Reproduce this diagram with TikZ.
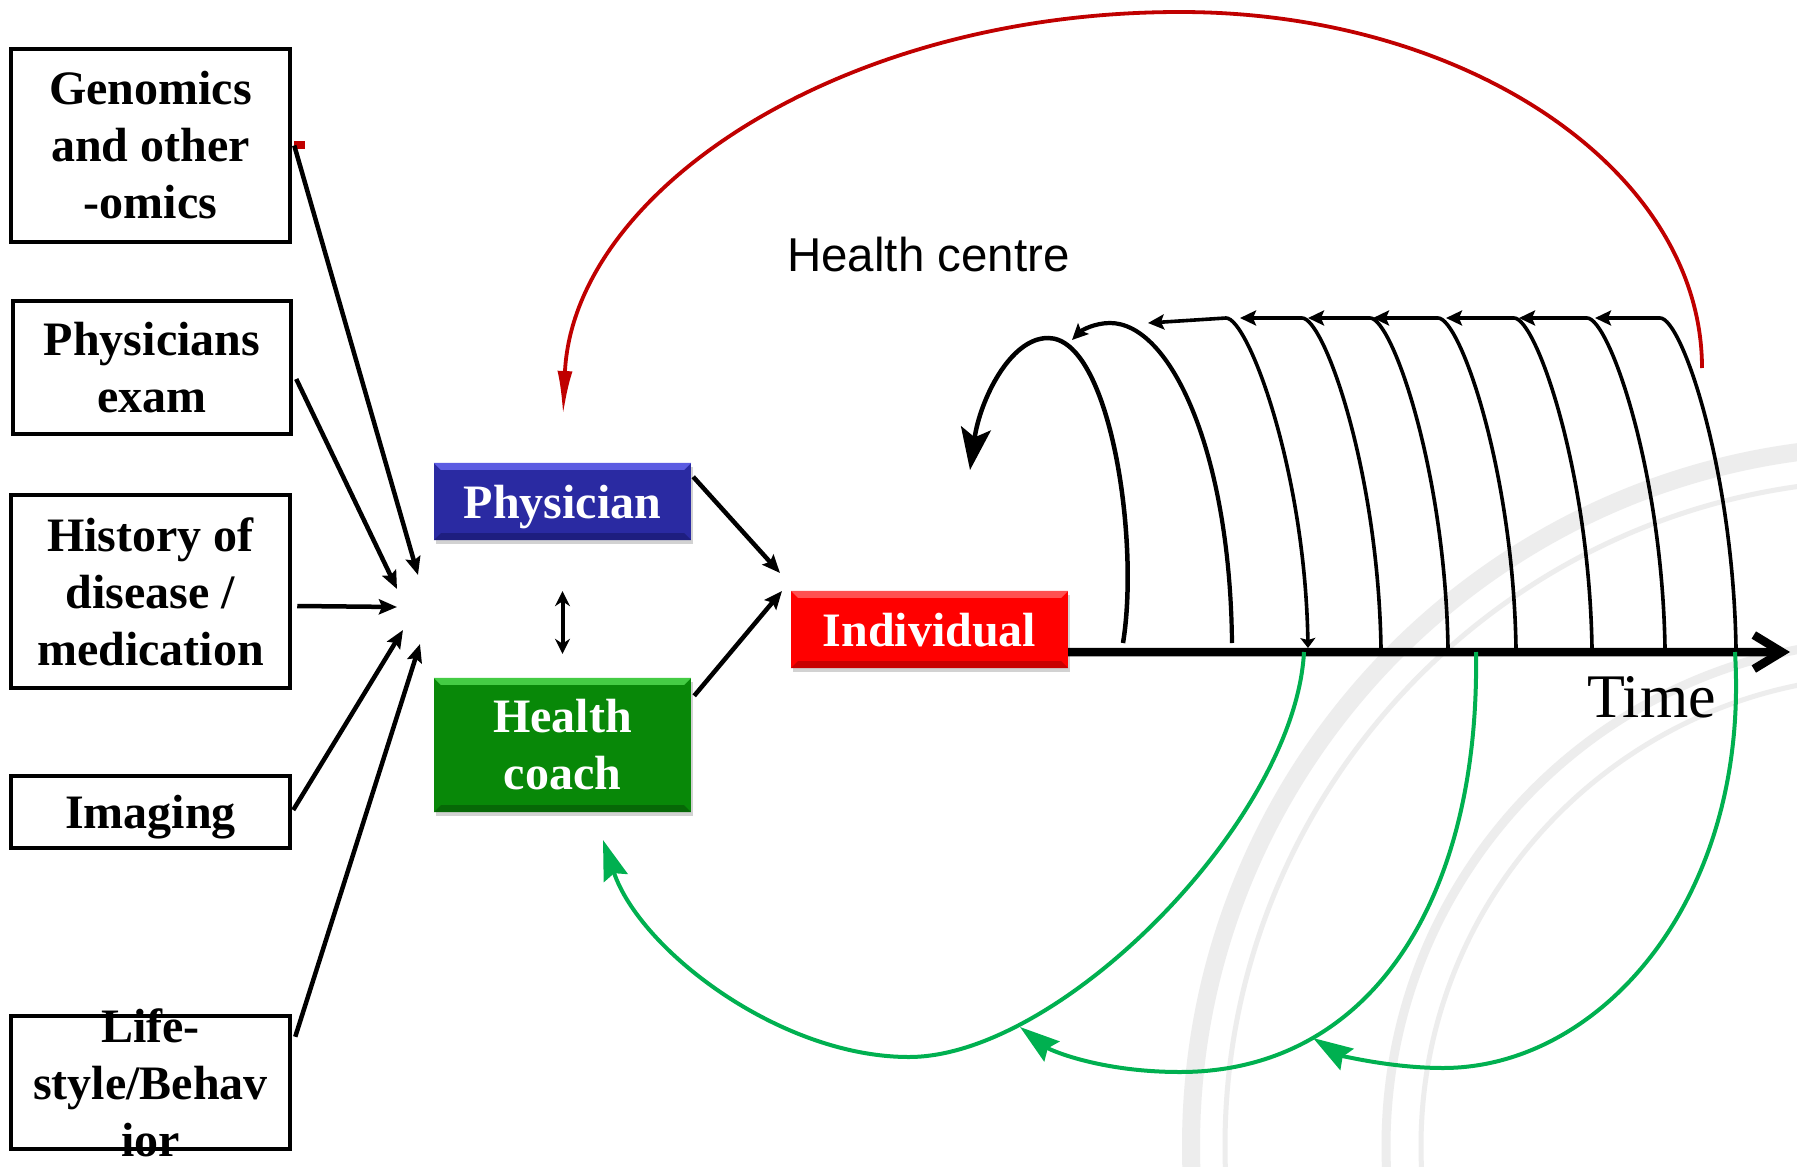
\documentclass[tikz,border=0pt]{standalone}
\usepackage{fontspec}
\setmainfont{Liberation Serif}
\newfontfamily\hcfont{Liberation Sans}
\usetikzlibrary{arrows.meta,calc,shadows}
\definecolor{physblue}{HTML}{2A2AA2}
\definecolor{physlight}{HTML}{5C5CE2}
\definecolor{physdark}{HTML}{1E1E80}
\definecolor{coachgreen}{HTML}{088808}
\definecolor{coachlight}{HTML}{44CC44}
\definecolor{coachdark}{HTML}{066806}
\definecolor{indred}{HTML}{FF0000}
\definecolor{indlight}{HTML}{FF5050}
\definecolor{inddark}{HTML}{C80000}
\definecolor{loopred}{HTML}{C00000}
\definecolor{fbgreen}{HTML}{00B050}
\definecolor{sealgray}{HTML}{EDEDED}
\begin{document}
\begin{tikzpicture}[x=1pt,y=-1pt,
  lbox/.style={draw,line width=4.5pt,fill=white,inner sep=0pt,align=center,font=\bfseries\fontsize{48}{57}\selectfont},
  lab/.style={inner sep=0pt,align=center,font=\bfseries\fontsize{48}{57}\selectfont},
  cbox/.style={inner sep=0pt,align=center,text=white,font=\bfseries\fontsize{48}{57}\selectfont,
    drop shadow={shadow xshift=2pt,shadow yshift=-4pt,opacity=0.35}},
  arr/.style={line width=4.5pt,-{Stealth[length=18pt,width=15pt,inset=3pt]}},
  coil/.style={line width=3.6pt},
  coiltip/.style={-{Stealth[length=16pt,width=15pt,inset=3pt]}},
  fb/.style={draw=fbgreen,line width=4pt,-{Stealth[length=40pt,width=25pt,inset=5pt]}},
  seal/.style={draw=sealgray}
]
\useasboundingbox (0,0) rectangle (1797,1167);
\fill[white] (0,0) rectangle (1797,1167);

% watermark seal
\begin{scope}
\clip (0,0) rectangle (1797,1167);
\draw[seal,line width=18pt] (1891,1146) circle (700);
\draw[seal,line width=5pt] (1891,1146) circle (666);
\draw[seal,line width=9pt] (1891,1146) circle (505);
\draw[seal,line width=5pt] (1891,1146) circle (470);
\end{scope}

% red feedback loop
\draw[draw=loopred,line width=3.8pt,-{Latex[length=44pt,width=15pt]}]
  (1702,368) .. controls (1702,171) and (1468,12) .. (1180,12)
  .. controls (839,12) and (573,192) .. (563,415);
\fill[loopred] (294,141) rectangle (305,149);

% coil of loops
\foreach \c/\b/\t in {1660/1736/1595, 1587/1665/1519, 1514/1592/1446, 1438/1516/1373, 1370/1448/1308, 1302/1381/1240}
  \draw[coil,coiltip] (\b,648) .. controls (\b-3,470) and (\c+22,318) .. (\c,318) -- (\t,318);
\draw[coil,{Stealth[length=16pt,width=15pt,inset=3pt]}-{Stealth[length=10pt,width=15pt,inset=2pt]}]
  (1148,323) -- (1226,318) .. controls (1248,318) and (1305,470) .. (1308,648);
\draw[line width=4.2pt,coiltip]
  (1232,643) .. controls (1230,450) and (1170,323) .. (1110,323)
  .. controls (1095,323) and (1082,330) .. (1072,340);
\draw[line width=4.5pt,-{Stealth[length=42pt,width=30pt,inset=9pt]}]
  (1123,643) .. controls (1140,540) and (1110,338) .. (1048,338)
  .. controls (1010,338) and (980,400) .. (970,470);

% labels
\node[anchor=base west,inner sep=0pt,font=\hcfont\fontsize{47.5}{47.5}\selectfont] (hcentre) at (787,271) {Health centre};
\node[anchor=base west,inner sep=0pt,font=\fontsize{62}{62}\selectfont] (time) at (1587,717) {Time};

% input boxes
\node[lbox,minimum width=279pt,minimum height=193pt] (gen) at (150.5,145.5) {Genomics\\and other\\-omics};
\node[lbox,minimum width=278pt,minimum height=133pt] (pex) at (152,367.5) {Physicians\\exam};
\node[lbox,minimum width=279pt,minimum height=193pt] (hist) at (150.5,591.5) {History of\\disease /\\medication};
\node[lbox,minimum width=279pt,minimum height=72pt,text depth=0pt] (img) at (150.5,812) {Imaging};
\node[lbox,minimum width=279pt,minimum height=133pt] (life) at (150.5,1082.5) {};
\node[lab] (lifetext) at (life.center) {Life-\\style/Behav\\ior};

% actor boxes
\node[cbox,fill=physblue,minimum width=257pt,minimum height=77pt,text depth=0pt] (phys) at (562.5,501.5) {Physician};
\node[cbox,fill=coachgreen,minimum width=257pt,minimum height=134pt] (hc) at (562.5,745) {Health\\coach};
\node[cbox,fill=indred,minimum width=277pt,minimum height=77pt,text depth=0pt] (ind) at (929.5,629.5) {Individual};
\foreach \n/\l/\d in {phys/physlight/physdark, hc/coachlight/coachdark, ind/indlight/inddark}{
  \fill[\l] (\n.north west) -- (\n.north east) -- ($(\n.north east)+(-7,7)$) -- ($(\n.north west)+(7,7)$) -- cycle;
  \fill[\d] (\n.south west) -- (\n.south east) -- ($(\n.south east)+(-7,-7)$) -- ($(\n.south west)+(7,-7)$) -- cycle;
}

% convergence coordinates
\coordinate (t1) at (418,575);
\coordinate (t2) at (397,589);
\coordinate (t3) at (397,607);
\coordinate (t4) at (403,630);
\coordinate (t5) at (420,644);
\draw[arr] ($(gen.east)+(2,0)$) -- (t1);
\draw[arr] ($(pex.east)+(3,11.5)$) -- (t2);
\draw[arr] ($(hist.east)+(5,14.5)$) -- (t3);
\draw[arr] ($(img.east)+(1,-2)$) -- (t4);
\draw[arr] ($(life.north east)+(3,23)$) -- (t5);

% to individual
\coordinate (ip) at (780,573);
\coordinate (iq) at (782,591);
\draw[arr] ($(phys.north east)+(2,14)$) -- (ip);
\draw[arr] ($(hc.north east)+(3,18)$) -- (iq);
\draw[line width=4pt,{Stealth[length=15pt,width=15pt]}-{Stealth[length=15pt,width=15pt]},shorten <=51pt,shorten >=24pt] (phys.south) -- (hc.north);

% timeline
\coordinate (tend) at (1790,652);
\draw[line width=8.5pt,-{Straight Barb[length=28pt,width=34pt]}] ($(ind.south east)+(0,-16)$) -- (tend);

% green feedback arcs
\coordinate (g3) at (603,840);
\draw[fb] (1304,652) .. controls (1295,820) and (1060,1057) .. (909,1057)
  .. controls (780,1057) and (640,950) .. (g3);
\draw[fb] (1476,652) .. controls (1480,900) and (1370,1072) .. (1180,1072)
  .. controls (1100,1072) and (1050,1050) .. (1020,1027);
\draw[fb] (1735,652) .. controls (1750,900) and (1600,1068) .. (1443,1068)
  .. controls (1390,1068) and (1340,1055) .. (1313,1038);
\end{tikzpicture}
\end{document}
